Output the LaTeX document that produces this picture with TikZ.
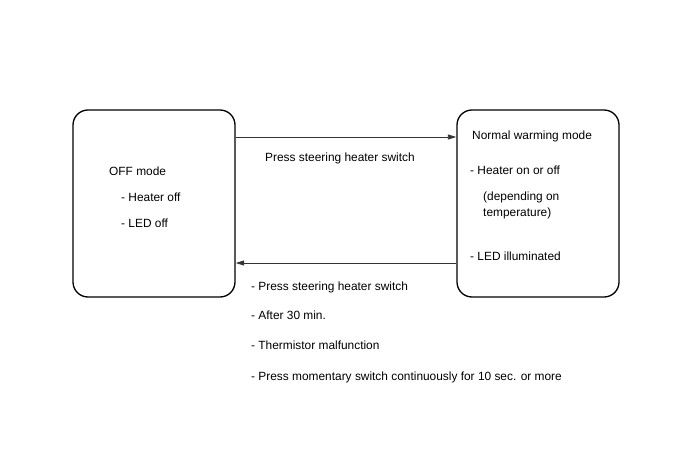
\documentclass[tikz,border=0pt]{standalone}
\usepackage{fontspec}
\setmainfont{Liberation Sans}
\usepackage{tikz}
\usetikzlibrary{positioning,arrows.meta,calc}

\begin{document}
\begin{tikzpicture}[
  x=1pt, y=-1pt,
  every node/.style={font=\fontsize{11.9}{13}\selectfont},
  modebox/.style={draw,line width=1.3pt,rounded corners=15pt,minimum width=162pt,minimum height=187pt,inner sep=0pt},
  txt/.style={anchor=west,inner sep=0pt},
  arr/.style={draw=black!80,line width=0.8pt,-{Triangle[length=8.5pt,width=5pt]}}
]
\useasboundingbox (0,0) rectangle (688,463);

% the two modes
\node[modebox] (off) at (154,203.5) {};
\node[modebox] (warm) at (538,203.5) {};

% OFF mode texts
\node[txt] (offt) at (109,171) {OFF mode};
\node[txt] (offh) at (121,197) {- Heater off};
\node[txt] (offl) at (121,223) {- LED off};

% Normal warming mode texts
\node[txt] (warmt) at (472,136) {Normal warming mode};
\node[txt] (warmh) at (470,170) {- Heater on or off};
\node[txt] (warmd) at (483,197) {(depending on};
\node[txt] (warme) at (483,213) {temperature)};
\node[txt] (warml) at (470,256) {- LED illuminated};

% transitions
\coordinate (topy) at (0,137);
\coordinate (boty) at (0,263);
\draw[arr] (off.east |- topy) -- (warm.west |- topy);
\draw[arr] (warm.west |- boty) -- (off.east |- boty);

% transition labels
\node[txt] (on1) at (265,158) {Press steering heater switch};
\node[txt] (back1) at (251,287) {- Press steering heater switch};
\node[txt] (back2) at (251,315) {- After 30 min.};
\node[txt] (back3) at (251,345) {- Thermistor malfunction};
\node[txt] (back4) at (251,377) {- Press momentary switch continuously for 10 sec. or more};
\end{tikzpicture}
\end{document}
